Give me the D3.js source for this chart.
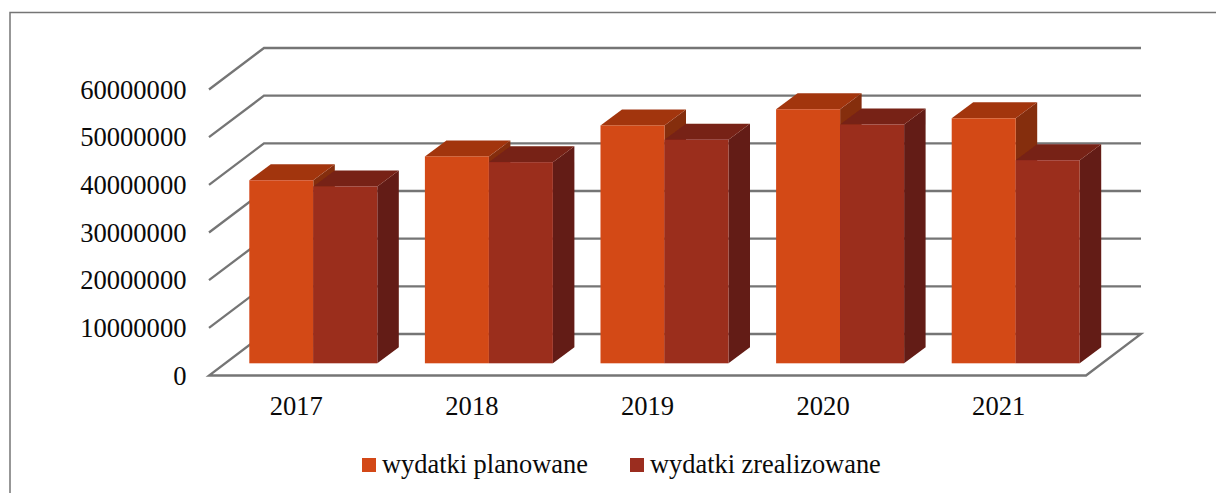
<!DOCTYPE html>
<html><head><meta charset="utf-8">
<script src="https://cdn.jsdelivr.net/npm/d3@7"></script>
<style>html,body{margin:0;padding:0;background:#fff;overflow:hidden}svg{display:block}text{font-family:"Liberation Serif","Times New Roman",serif;fill:#0a0a0a}</style>
</head><body><svg id="c" width="1216" height="493"></svg>
<script>
const categories = ["2017","2018","2019","2020","2021"];
const planowane = [38400000,43400000,49900000,53300000,51400000];
const zrealizowane = [37100000,42200000,46900000,50100000,42600000];
const yTicks = [0,10000000,20000000,30000000,40000000,50000000,60000000];
const seriesNames = ["wydatki planowane","wydatki zrealizowane"];
const seriesColors = [
  {front:"#D34817",top:"#A2360F",side:"#852E0C"},
  {front:"#9B2D1F",top:"#772116",side:"#641B13"}
];

const svg = d3.select("#c");
const x = d3.scaleBand().domain(categories).range([209,1087]);
const y = d3.scaleLinear().domain([0,60000000]).range([375.5,89.5]);
const depth = {x:55,y:-41.5};
const barDepth = {x:21.5,y:-16};
const barBaseOffset = {x:40.3,y:-12.2};
const barW = 64;
const grid = "#757575";

const defs = svg.append("defs");
defs.append("filter").attr("id","soft").attr("x","-5%").attr("y","-5%").attr("width","110%").attr("height","110%")
  .append("feGaussianBlur").attr("stdDeviation",0.5);

svg.append("path").attr("d","M10,493V12.5H1216").attr("fill","none").attr("stroke",grid).attr("stroke-width",1.5);

const plot = svg.append("g").attr("filter","url(#soft)");
// walls
yTicks.forEach(t=>{
  if(t===0) return;
  const p = y(t);
  plot.append("path").attr("fill","none").attr("stroke",grid).attr("stroke-width",2.3)
    .attr("d",`M${x.range()[0]},${p}L${x.range()[0]+depth.x},${p+depth.y}H${x.range()[1]-1+depth.x}`);
});
// floor
const x0=x.range()[0],x1=x.range()[1]-1,y0=y(0);
plot.append("path").attr("fill","#fff").attr("stroke",grid).attr("stroke-width",2.3)
  .attr("d",`M${x0},${y0}H${x1}L${x1+depth.x},${y0+depth.y}H${x0+depth.x}Z`);

// bars
const bar = (g,bx,val,c)=>{
  const by = y0+barBaseOffset.y;
  const top = by-(y0-y(val));
  const dx=barDepth.x,dy=barDepth.y;
  g.append("path").attr("fill",c.side).attr("d",`M${bx+barW},${by}V${top}l${dx},${dy}V${by+dy}Z`);
  g.append("path").attr("fill",c.top).attr("d",`M${bx},${top}H${bx+barW}l${dx},${dy}H${bx+dx}Z`);
  g.append("rect").attr("x",bx).attr("y",top).attr("width",barW).attr("height",by-top).attr("fill",c.front);
};
categories.forEach((cat,i)=>{
  const g = plot.append("g");
  const bx = x(cat)+barBaseOffset.x;
  bar(g,bx,planowane[i],seriesColors[0]);
  bar(g,bx+barW,zrealizowane[i],seriesColors[1]);
});

// y labels
svg.append("g").selectAll("text").data(yTicks).join("text")
  .attr("x",186.5).attr("y",d=>y(d)+9).attr("text-anchor","end").attr("font-size",26.6)
  .text(d=>d3.format("d")(d));
// x labels
svg.append("g").selectAll("text").data(categories).join("text")
  .attr("x",d=>x(d)+x.bandwidth()/2-0.5).attr("y",415).attr("text-anchor","middle").attr("font-size",26.6)
  .text(d=>d);
// legend
const legX=[362,630];
seriesNames.forEach((n,i)=>{
  svg.append("rect").attr("x",legX[i]).attr("y",458).attr("width",14).attr("height",14).attr("fill",seriesColors[i].front);
  svg.append("text").attr("x",legX[i]+20).attr("y",473).attr("font-size",26.4).text(n);
});
</script></body></html>
